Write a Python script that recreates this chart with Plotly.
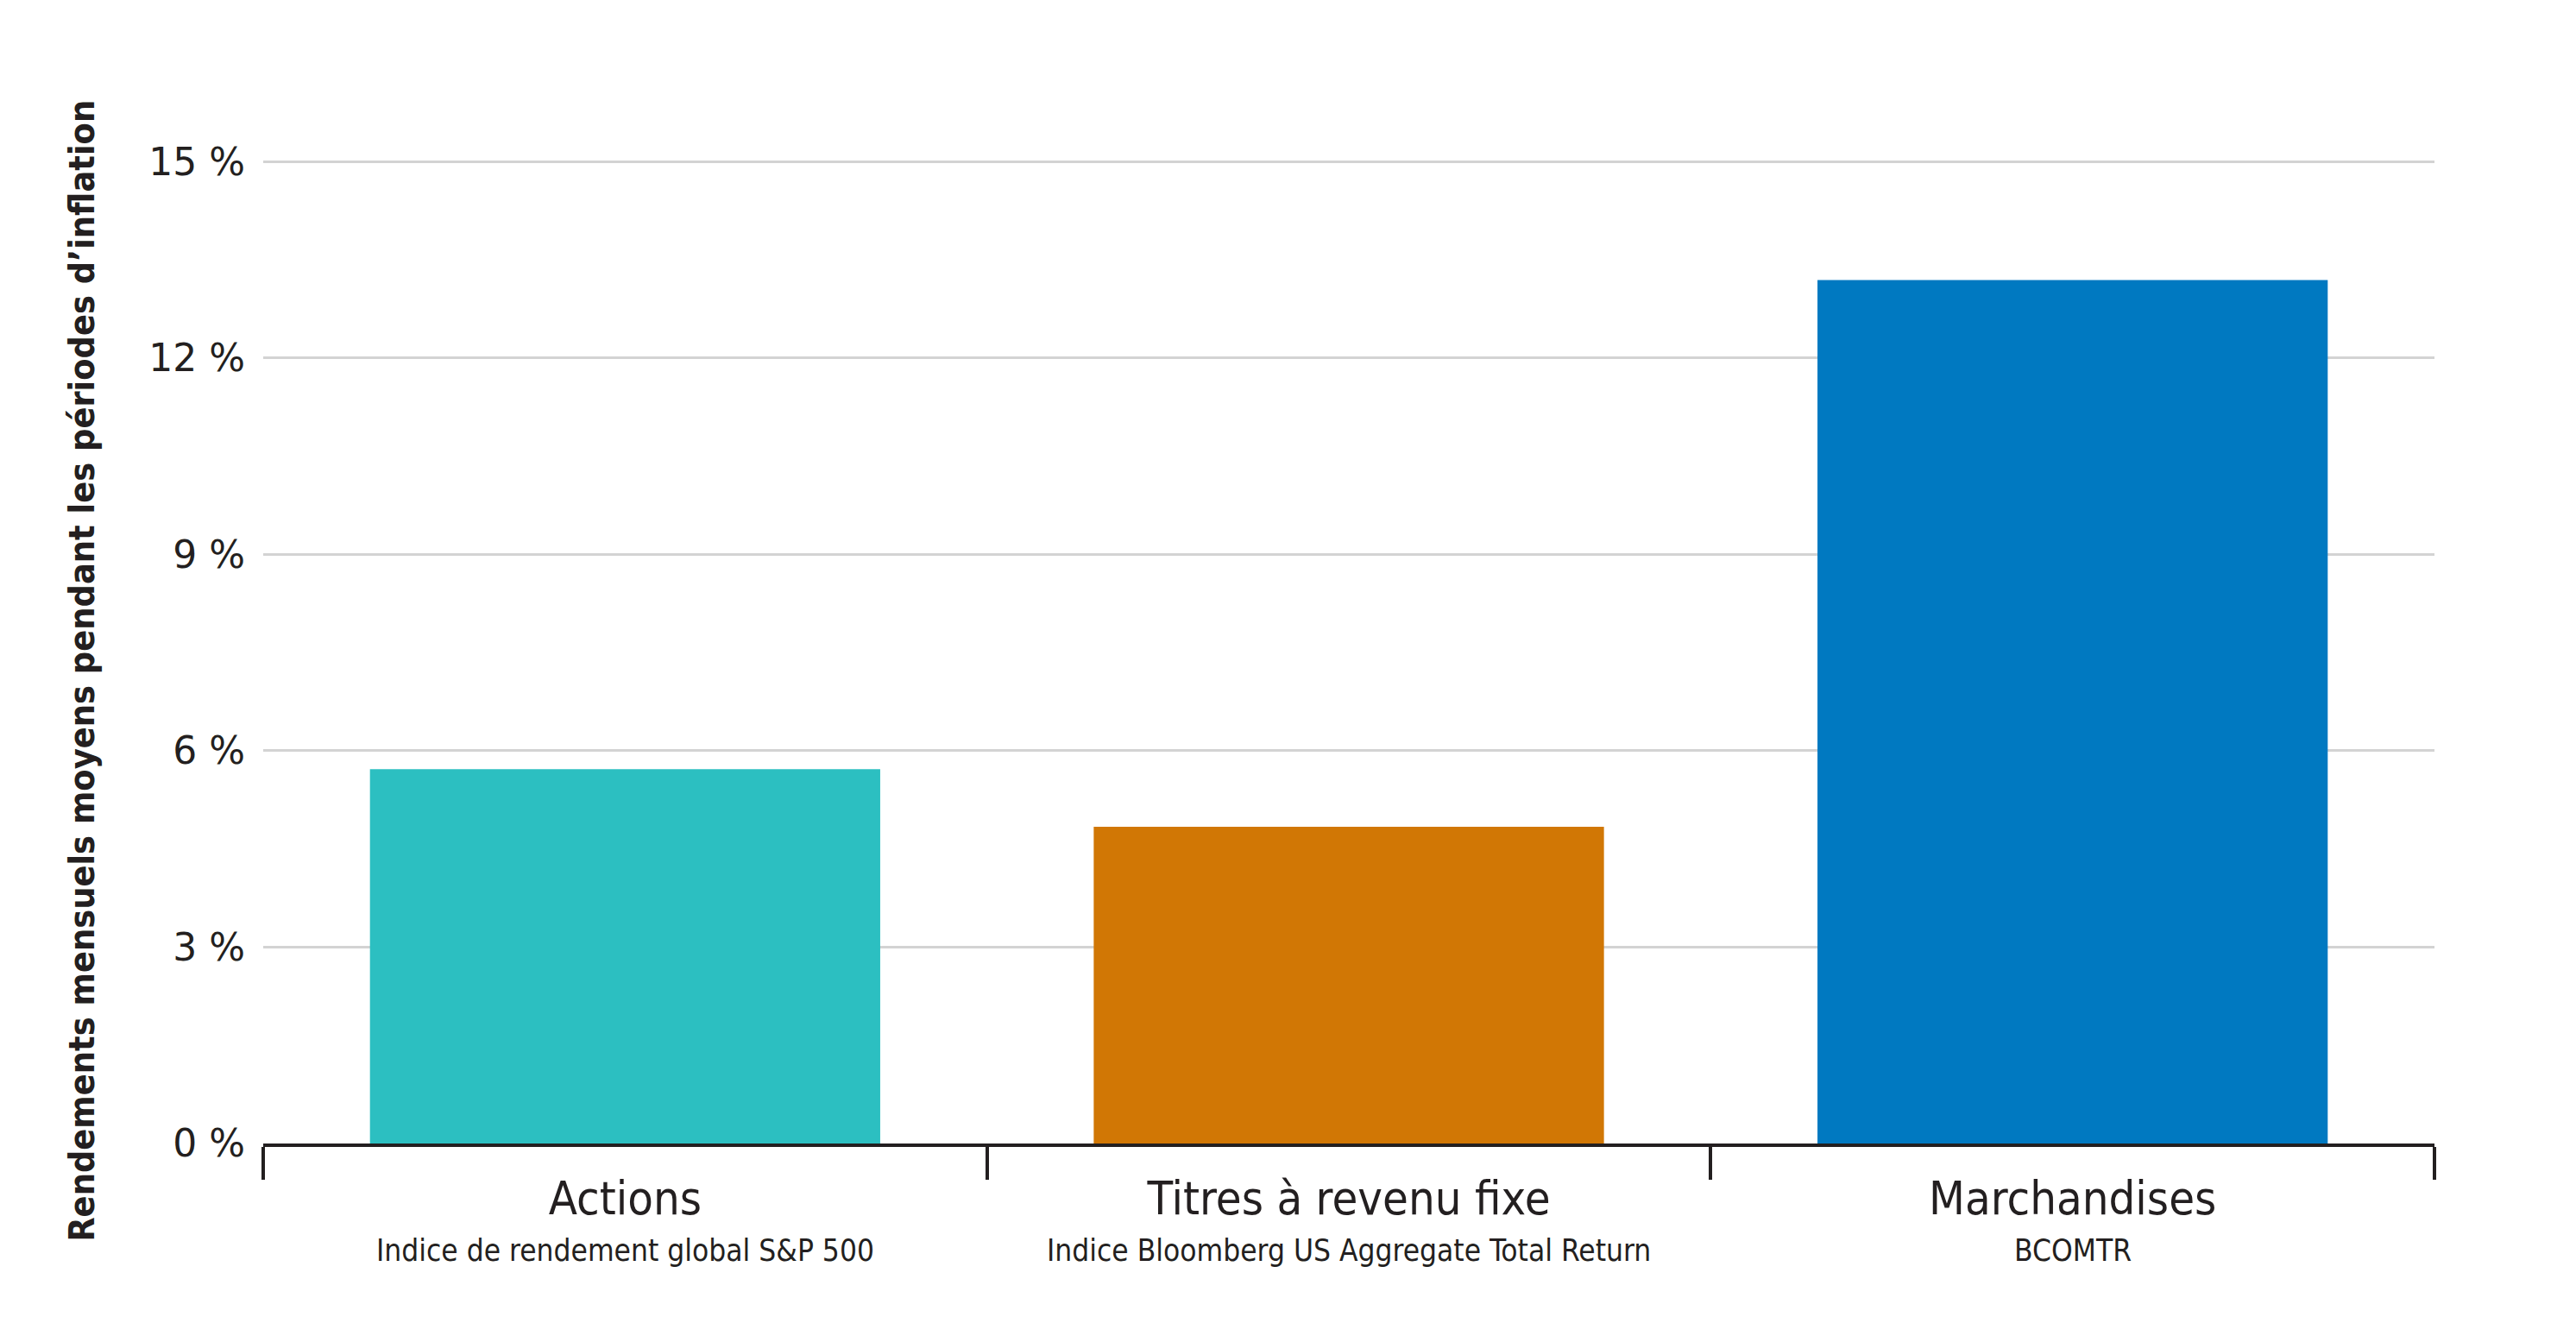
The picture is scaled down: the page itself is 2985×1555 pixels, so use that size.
import plotly.graph_objects as go

categories = ["Actions", "Titres à revenu fixe", "Marchandises"]
subtitles = ["Indice de rendement global S&P 500",
             "Indice Bloomberg US Aggregate Total Return",
             "BCOMTR"]
values = [5.72, 4.84, 13.19]
colors = ["#2CBFC1", "#D17705", "#0079C1"]
y_ticks = [0, 3, 6, 9, 12, 15]
y_tick_text = ["0 %", "3 %", "6 %", "9 %", "12 %", "15 %"]
y_title = "Rendements mensuels moyens pendant les périodes d’inflation"

NARROW = "DejaVu Sans Condensed, Liberation Sans Narrow, sans-serif"

fig = go.Figure()
fig.add_trace(go.Bar(x=categories, y=values, marker=dict(color=colors, line=dict(width=0)),
                     width=0.705, hoverinfo="skip"))

for c, s in zip(categories, subtitles):
    fig.add_annotation(x=c, y=0, xref="x", yref="paper", text=s, showarrow=False,
                       yanchor="top", yshift=-102,
                       font=dict(family=NARROW, size=35, color="#231F20"))

fig.add_annotation(x=0, y=0.48, xref="paper", yref="paper", text="<b>" + y_title + "</b>",
                   showarrow=False, textangle=-90, xanchor="center", yanchor="middle",
                   xshift=-210,
                   font=dict(family=NARROW, size=41, color="#231F20"))

fig.update_layout(
    width=2985, height=1555,
    margin=dict(l=297, r=172, t=177, b=238),
    paper_bgcolor="white", plot_bgcolor="white",
    showlegend=False,
    xaxis=dict(
        type="category", automargin=False,
        showline=True, linecolor="#231F20", linewidth=4,
        ticks="outside", tickson="boundaries", ticklen=38, tickwidth=4, tickcolor="#231F20",
        tickfont=dict(family=NARROW, size=54, color="#231F20"),
        ticklabelstandoff=13,
        showgrid=False,
        range=[-0.5, 2.5],
    ),
    yaxis=dict(
        automargin=False,
        range=[0, 15.03], tickvals=y_ticks, ticktext=y_tick_text,
        tickfont=dict(family="DejaVu Sans", size=44, color="#231F20"),
        showgrid=True, gridcolor="#D3D3D3", gridwidth=3,
        zeroline=False, showline=False, ticks="",
        ticklabelstandoff=20,
    ),
)

fig.write_html("out.html")
